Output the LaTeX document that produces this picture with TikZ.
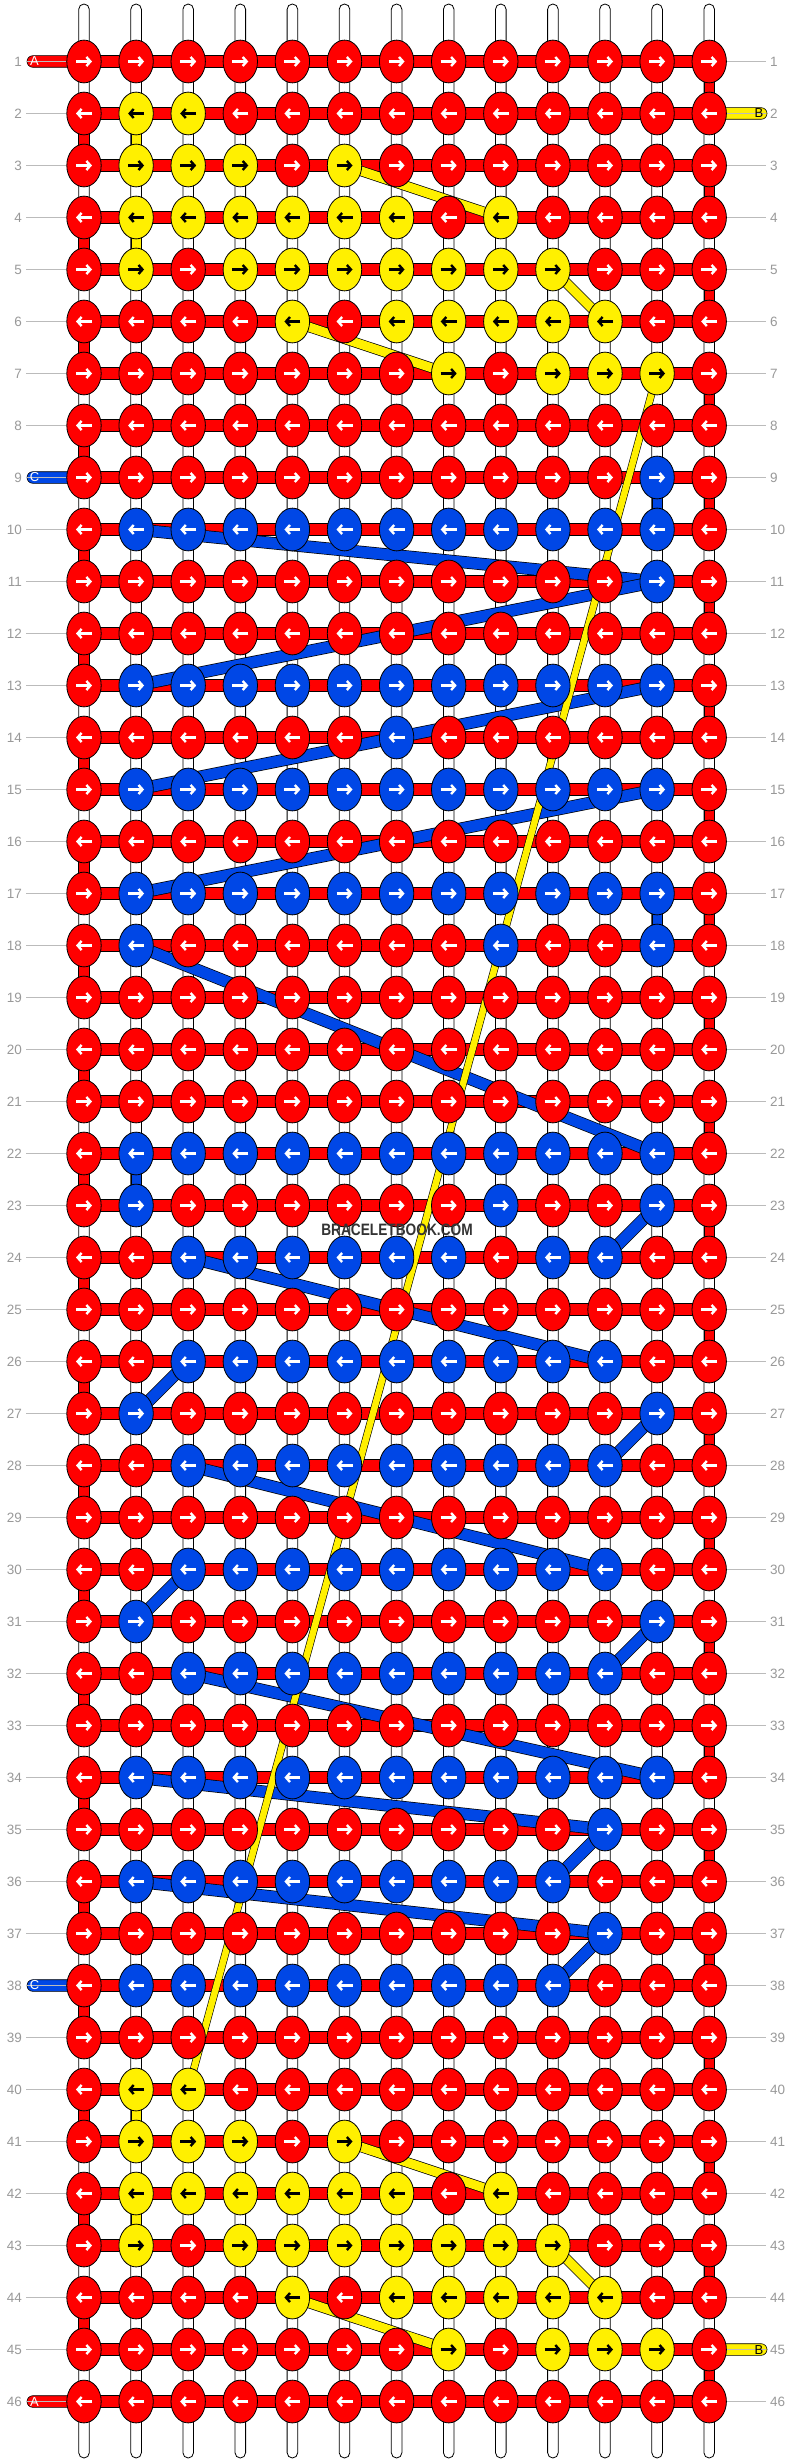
\documentclass[tikz,border=0pt]{standalone}
\usepackage{fontspec}
\setmainfont{Liberation Sans}
\usetikzlibrary{shapes.geometric,arrows.meta}
\definecolor{kR}{HTML}{FF0000}
\definecolor{kY}{HTML}{FFF000}
\definecolor{kB}{HTML}{0047E6}
\colorlet{aR}{white}
\colorlet{aY}{black}
\colorlet{aB}{white}
\definecolor{lbl}{HTML}{999999}
\definecolor{lblline}{HTML}{BBBBBB}
\definecolor{wmk}{HTML}{333333}
\pgfdeclarelayer{paper}
\pgfdeclarelayer{strings}
\pgfdeclarelayer{threads}
\pgfsetlayers{paper,strings,threads,main}
\begin{document}
\begin{tikzpicture}[x=1pt,y=-1pt,
  knot/.style={ellipse, draw=black, line width=0.8pt, minimum width=34.4pt, minimum height=42.8pt, inner sep=0pt},
  glyph/.style={line width=2.4pt, -{Straight Barb[length=4pt,width=9pt]}},
  warp/.style={draw=black, fill=white, line width=0.8pt, rounded corners=5.3pt},
  rowbar/.style={draw=black, fill=kR, line width=0.6pt},
  turn/.style={draw=black, line width=0.6pt},
  tabbar/.style={draw=black, line width=0.6pt, rounded corners=5.8pt},
  bthread/.style={draw=black, line width=0.7pt, double=kB, double distance=11pt},
  ythread/.style={draw=black, line width=0.7pt, double=kY, double distance=9pt},
  ylong/.style={draw=black, line width=0.6pt, double=kY, double distance=6.5pt},
  numlbl/.style={text=lbl, font=\fontsize{13.5}{13.5}\selectfont, inner sep=0pt},
  lblline/.style={draw=lblline, line width=1.4pt},
  tabtxt/.style={font=\fontsize{13}{13}\selectfont, inner sep=0pt}
]
\begin{pgfonlayer}{paper}
\fill[white] (0,0) rectangle (792,2464);
\end{pgfonlayer}
\useasboundingbox (0,0) rectangle (792,2464);

% knots
\foreach \i/\pat in {
1/{R,R,R,R,R,R,R,R,R,R,R,R,R},
2/{R,Y,Y,R,R,R,R,R,R,R,R,R,R},
3/{R,Y,Y,Y,R,Y,R,R,R,R,R,R,R},
4/{R,Y,Y,Y,Y,Y,Y,R,Y,R,R,R,R},
5/{R,Y,R,Y,Y,Y,Y,Y,Y,Y,R,R,R},
6/{R,R,R,R,Y,R,Y,Y,Y,Y,Y,R,R},
7/{R,R,R,R,R,R,R,Y,R,Y,Y,Y,R},
8/{R,R,R,R,R,R,R,R,R,R,R,R,R},
9/{R,R,R,R,R,R,R,R,R,R,R,B,R},
10/{R,B,B,B,B,B,B,B,B,B,B,B,R},
11/{R,R,R,R,R,R,R,R,R,R,R,B,R},
12/{R,R,R,R,R,R,R,R,R,R,R,R,R},
13/{R,B,B,B,B,B,B,B,B,B,B,B,R},
14/{R,R,R,R,R,R,B,R,R,R,R,R,R},
15/{R,B,B,B,B,B,B,B,B,B,B,B,R},
16/{R,R,R,R,R,R,R,R,R,R,R,R,R},
17/{R,B,B,B,B,B,B,B,B,B,B,B,R},
18/{R,B,R,R,R,R,R,R,B,R,R,B,R},
19/{R,R,R,R,R,R,R,R,R,R,R,R,R},
20/{R,R,R,R,R,R,R,R,R,R,R,R,R},
21/{R,R,R,R,R,R,R,R,R,R,R,R,R},
22/{R,B,B,B,B,B,B,B,B,B,B,B,R},
23/{R,B,R,R,R,R,R,R,B,R,R,B,R},
24/{R,R,B,B,B,B,B,B,R,B,B,R,R},
25/{R,R,R,R,R,R,R,R,R,R,R,R,R},
26/{R,R,B,B,B,B,B,B,B,B,B,R,R},
27/{R,B,R,R,R,R,R,R,R,R,R,B,R},
28/{R,R,B,B,B,B,B,B,B,B,B,R,R},
29/{R,R,R,R,R,R,R,R,R,R,R,R,R},
30/{R,R,B,B,B,B,B,B,B,B,B,R,R},
31/{R,B,R,R,R,R,R,R,R,R,R,B,R},
32/{R,R,B,B,B,B,B,B,B,B,B,R,R},
33/{R,R,R,R,R,R,R,R,R,R,R,R,R},
34/{R,B,B,B,B,B,B,B,B,B,B,B,R},
35/{R,R,R,R,R,R,R,R,R,R,B,R,R},
36/{R,B,B,B,B,B,B,B,B,B,R,R,R},
37/{R,R,R,R,R,R,R,R,R,R,B,R,R},
38/{R,B,B,B,B,B,B,B,B,B,R,R,R},
39/{R,R,R,R,R,R,R,R,R,R,R,R,R},
40/{R,Y,Y,R,R,R,R,R,R,R,R,R,R},
41/{R,Y,Y,Y,R,Y,R,R,R,R,R,R,R},
42/{R,Y,Y,Y,Y,Y,Y,R,Y,R,R,R,R},
43/{R,Y,R,Y,Y,Y,Y,Y,Y,Y,R,R,R},
44/{R,R,R,R,Y,R,Y,Y,Y,Y,Y,R,R},
45/{R,R,R,R,R,R,R,Y,R,Y,Y,Y,R},
46/{R,R,R,R,R,R,R,R,R,R,R,R,R}} {
  \foreach \kc [count=\j] in \pat {
    \node[knot, fill=k\kc] (k-\i-\j) at ({84+52.1*(\j-1)},{61.5+52*(\i-1)}) {};
    \ifodd\i\relax
      \draw[glyph, color=a\kc] ([xshift=-8pt]k-\i-\j.center) -- ([xshift=8pt]k-\i-\j.center);
    \else
      \draw[glyph, color=a\kc] ([xshift=8pt]k-\i-\j.center) -- ([xshift=-8pt]k-\i-\j.center);
    \fi
  }
}

% row labels
\foreach \i in {1,...,46} {
  \node[numlbl, anchor=east] (ll\i) at (22,{61.5+52*(\i-1)}) {\i};
  \node[numlbl, anchor=west] (rl\i) at (770,{61.5+52*(\i-1)}) {\i};
  \draw[lblline] ([xshift=4pt]ll\i.east) -- (k-\i-1.west);
  \draw[lblline] (k-\i-13.east) -- ([xshift=-4pt]rl\i.west);
}

% strings layer
\begin{pgfonlayer}{strings}
  \foreach \j in {1,...,13}
    \draw[warp] ({84+52.1*(\j-1)-5.3},4) rectangle ({84+52.1*(\j-1)+5.3},2458);
  \foreach \i in {1,...,46}
    \draw[rowbar] ([yshift=5.8pt]k-\i-1.center) rectangle ([yshift=-5.8pt]k-\i-13.center);
  \foreach \i in {1,...,45} {
    \pgfmathtruncatemacro\nx{\i+1}
    \ifodd\i\relax \def\tc{13}\else \def\tc{1}\fi
    \draw[turn, fill=kR] ([xshift=-5.3pt]k-\i-\tc.center) rectangle ([xshift=5.3pt]k-\nx-\tc.center);
  }
  \foreach \a/\b/\col/\cc in {2/3/2/kY, 4/5/2/kY, 40/41/2/kY, 42/43/2/kY, 9/10/12/kB, 17/18/12/kB, 22/23/2/kB}
    \draw[turn, fill=\cc] ([xshift=-5.3pt]k-\a-\col.center) rectangle ([xshift=5.3pt]k-\b-\col.center);
  % tabs
  \draw[tabbar, fill=kR] (27,55.7) rectangle (k-1-1.center |- 0,67.3);
  \draw[tabbar, fill=kR] (27,2395.7) rectangle (k-46-1.center |- 0,2407.3);
  \draw[tabbar, fill=kB] (27,471.7) rectangle (k-9-1.center |- 0,483.3);
  \draw[tabbar, fill=kB] (27,1979.7) rectangle (k-38-1.center |- 0,1991.3);
  \draw[tabbar, fill=kY] (k-2-13.center |- 0,107.7) rectangle (767,119.3);
  \draw[tabbar, fill=kY] (k-45-13.center |- 0,2343.7) rectangle (767,2355.3);
\end{pgfonlayer}

\node[tabtxt, text=white] (tA1) at (34.5,61.5) {A};
\node[tabtxt, text=white] (tA2) at (34.5,2401.5) {A};
\node[tabtxt, text=white] (tC1) at (34.5,477.5) {C};
\node[tabtxt, text=white] (tC2) at (34.5,1985.5) {C};
\node[tabtxt, text=black] (tB1) at (759,113.5) {B};
\node[tabtxt, text=black] (tB2) at (759,2349.5) {B};

% carried threads
\begin{pgfonlayer}{threads}
  \foreach \a/\b/\c/\d in {10/2/11/12, 11/12/13/2, 13/12/14/7, 14/7/15/2, 15/12/17/2, 18/2/22/12,
      23/12/24/11, 24/3/26/11, 26/3/27/2, 27/12/28/11, 28/3/30/11, 30/3/31/2, 31/12/32/11,
      32/3/34/12, 34/2/35/11, 35/11/36/10, 36/2/37/11, 37/11/38/10}
    \draw[bthread] (k-\a-\b.center) -- (k-\c-\d.center);
  \foreach \a/\b/\c/\d in {3/6/4/9, 5/10/6/11, 6/5/7/8, 41/6/42/9, 43/10/44/11, 44/5/45/8}
    \draw[ythread] (k-\a-\b.center) -- (k-\c-\d.center);
  \draw[ylong] (k-7-12.center) -- (k-40-3.center);
\end{pgfonlayer}

\node[font=\bfseries\fontsize{16.5}{16.5}\selectfont, text=wmk, inner sep=0pt] (wm) at (397,1230) {\scalebox{0.83}[1]{BRACELETBOOK.COM}};
\end{tikzpicture}
\end{document}
